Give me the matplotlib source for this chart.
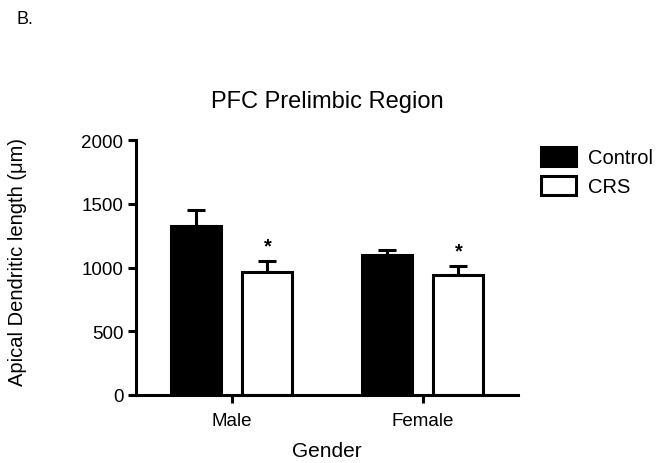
import matplotlib
matplotlib.use("Agg")
import matplotlib.pyplot as plt
import numpy as np

plt.rcParams['font.family'] = ['Liberation Sans', 'DejaVu Sans']

groups = ["Male", "Female"]
series = ["Control", "CRS"]
control_mean = [1328, 1098]
control_err = [125, 39]
crs_mean = [962, 943]
crs_err = [91, 71]
yticks = [0, 500, 1000, 1500, 2000]

fig = plt.figure(figsize=(6.62, 4.64), dpi=100)
ax = fig.add_axes([136/662, 1-396/464, (518-136)/662, (396-141)/464])

x = np.arange(len(groups))
off = 0.188
w = 0.262
lw = 2.2

ax.bar(x - off, control_mean, w, color='black', edgecolor='black', linewidth=lw, label=series[0], zorder=2)
ax.bar(x + off, crs_mean, w, color='white', edgecolor='black', linewidth=lw, label=series[1], zorder=2)
ax.errorbar(x - off, control_mean, yerr=[np.zeros(2), control_err], fmt='none', ecolor='black',
            elinewidth=lw, capsize=6.5, capthick=lw, zorder=1)
ax.errorbar(x + off, crs_mean, yerr=[np.zeros(2), crs_err], fmt='none', ecolor='black',
            elinewidth=lw, capsize=6.5, capthick=lw, zorder=1)

for xi, m, e in zip(x + off, crs_mean, crs_err):
    ax.text(xi, m + e + 45, "*", ha='center', va='bottom', fontsize=14.5, fontweight='bold')

ax.set_xlim(-0.5, 1.5)
ax.set_ylim(0, 2000)
ax.set_yticks(yticks)
ax.set_xticks(x)
ax.set_xticklabels(groups)
for s in ['top', 'right']:
    ax.spines[s].set_visible(False)
for s in ['left', 'bottom']:
    ax.spines[s].set_linewidth(2.2)
ax.tick_params(axis='both', width=2.2, length=6, labelsize=13.5, direction='out')
ax.tick_params(axis='x', pad=6)
ax.tick_params(axis='y', pad=3)

ax.set_title("PFC Prelimbic Region", fontsize=17, pad=24)
ax.set_xlabel("Gender", fontsize=15, labelpad=9)
ax.set_ylabel("Apical Dendritic length (\u03bcm)", fontsize=14.5)
ax.yaxis.set_label_coords(-0.285, 0.525)

leg = ax.legend(loc='upper left', bbox_to_anchor=(541/662, 1-148/464), bbox_transform=fig.transFigure,
                frameon=False, fontsize=14.5, borderpad=0, borderaxespad=0,
                handlelength=1.75, handleheight=1.05, handletextpad=0.6, labelspacing=0.45)

fig.text(17/662, 1-24/464, "B.", fontsize=13, ha='left', va='baseline')

fig.savefig("out.png", dpi=100)
